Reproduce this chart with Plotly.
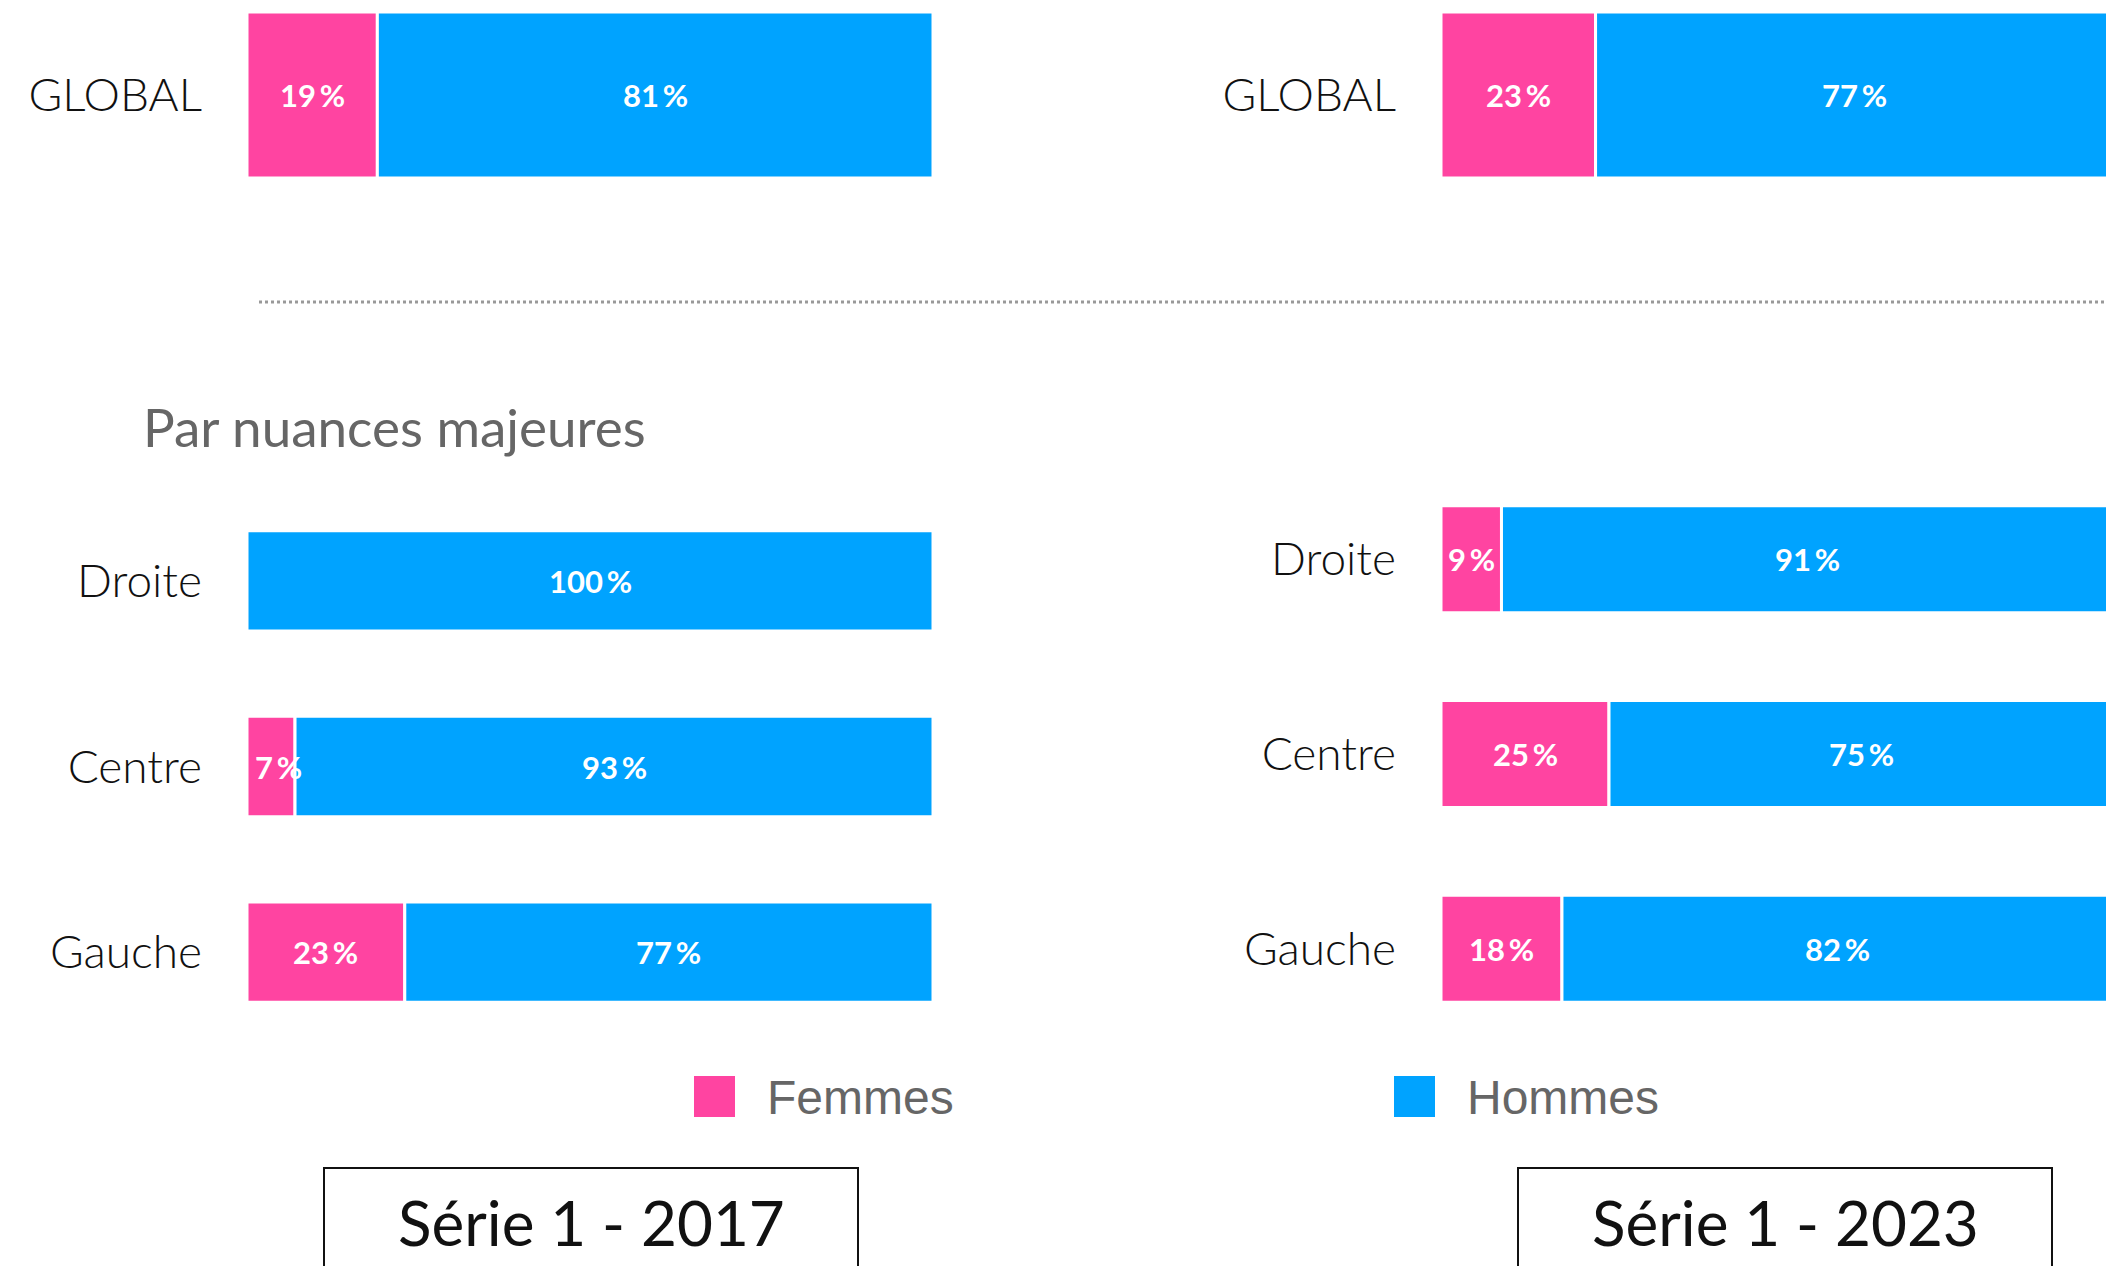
import plotly.graph_objects as go

# ---- data ----
global_cat = ["GLOBAL"]
nuance_cat = ["Droite", "Centre", "Gauche"]

femmes_2017_global = [19]
hommes_2017_global = [81]
femmes_2017 = [0, 7, 23]
hommes_2017 = [100, 93, 77]

femmes_2023_global = [23]
hommes_2023_global = [77]
femmes_2023 = [9, 25, 18]
hommes_2023 = [91, 75, 82]

series_names = ["Femmes", "Hommes"]
panel_titles = ["Série 1 - 2017", "Série 1 - 2023"]
section_title = "Par nuances majeures"

PINK = "#FF44A1"
BLUE = "#00A3FF"
W, H = 2106, 1266


def px_x(p):
    return p / W


def px_y(p):
    return 1 - p / H


fig = go.Figure()

panels = [
    # (xaxis id, yaxis id, cats, femmes, hommes, bar width)
    ("x", "y", global_cat, femmes_2017_global, hommes_2017_global, 1.0),
    ("x2", "y2", global_cat, femmes_2023_global, hommes_2023_global, 1.0),
    ("x3", "y3", nuance_cat, femmes_2017, hommes_2017, 0.54),
    ("x4", "y4", nuance_cat, femmes_2023, hommes_2023, 0.55),
]

annotations = []
for xa, ya, cats, fem, hom, bw in panels:
    for name, vals, col, base in [
        (series_names[0], fem, PINK, [0] * len(fem)),
        (series_names[1], hom, BLUE, fem),
    ]:
        fig.add_trace(go.Bar(
            y=cats, x=vals, base=base, orientation="h", name=name,
            marker=dict(color=col, line=dict(color="white", width=3)),
            width=[bw] * len(cats), xaxis=xa, yaxis=ya, showlegend=False,
            hoverinfo="skip",
        ))
        for c, v, b in zip(cats, vals, base):
            if v > 0:
                narrow = v < 8
                annotations.append(dict(
                    x=b if narrow else b + v / 2, y=c, xref=xa, yref=ya,
                    text=f"{v}\u2009%",
                    showarrow=False, xanchor="left" if narrow else "center",
                    xshift=6 if narrow else 0, yanchor="middle",
                    font=dict(family="Lato", size=31, color="white", weight=700),
                ))

axis_common_x = dict(showgrid=False, zeroline=False, showticklabels=False,
                     showline=False, fixedrange=True)
axis_common_y = dict(showgrid=False, zeroline=False, showline=False, ticks="",
                     ticklabelstandoff=44, fixedrange=True,
                     tickfont=dict(family="Lato", size=46, color="#111111", weight=300))

fig.update_layout(
    width=W, height=H, margin=dict(l=0, r=0, t=0, b=0),
    paper_bgcolor="white", plot_bgcolor="white",
    barmode="overlay",
    xaxis=dict(domain=[px_x(247), px_x(933)], range=[0, 100], anchor="y", **axis_common_x),
    yaxis=dict(domain=[px_y(178), px_y(12)], anchor="x", **axis_common_y),
    xaxis2=dict(domain=[px_x(1441), 1.0], range=[0, 100 * (W - 1441) / (2113 - 1441)],
                anchor="y2", **axis_common_x),
    yaxis2=dict(domain=[px_y(178), px_y(12)], anchor="x2", **axis_common_y),
    xaxis3=dict(domain=[px_x(247), px_x(933)], range=[0, 100], anchor="y3", **axis_common_x),
    yaxis3=dict(domain=[px_y(1045), px_y(488)], anchor="x3", autorange="reversed",
                **axis_common_y),
    xaxis4=dict(domain=[px_x(1441), 1.0], range=[0, 100 * (W - 1441) / (2113 - 1441)],
                anchor="y4", **axis_common_x),
    yaxis4=dict(domain=[px_y(1046), px_y(462)], anchor="x4", autorange="reversed",
                **axis_common_y),
)

# section title
annotations.append(dict(
    x=px_x(141), y=px_y(426), xref="paper", yref="paper", text=section_title,
    showarrow=False, xanchor="left", yanchor="middle",
    font=dict(family="Lato", size=53, color="#666666"),
))

# legend (custom, large swatches)
shapes = []
for (sx, tx), name, col in zip([(694, 765), (1394, 1465)], series_names, [PINK, BLUE]):
    shapes.append(dict(type="rect", xref="paper", yref="paper",
                       x0=px_x(sx), x1=px_x(sx + 41), y0=px_y(1117), y1=px_y(1076),
                       fillcolor=col, line=dict(width=0)))
    annotations.append(dict(
        x=px_x(tx), y=px_y(1097), xref="paper", yref="paper", text=name,
        showarrow=False, xanchor="left", yanchor="middle",
        font=dict(family="Liberation Sans", size=48, color="#666666"),
    ))

# dotted separator
shapes.append(dict(type="line", xref="paper", yref="paper",
                   x0=px_x(259), x1=1.0, y0=px_y(302), y1=px_y(302),
                   line=dict(color="#999999", width=3, dash="dot")))

# panel title boxes
for (bx0, bx1), t in zip([(324, 858), (1518, 2052)], panel_titles):
    shapes.append(dict(type="rect", xref="paper", yref="paper",
                       x0=px_x(bx0), x1=px_x(bx1), y0=-0.05, y1=px_y(1168),
                       line=dict(color="#111111", width=2), fillcolor="rgba(0,0,0,0)"))
    annotations.append(dict(
        x=px_x((bx0 + bx1) / 2), y=px_y(1222), xref="paper", yref="paper", text=t,
        showarrow=False, xanchor="center", yanchor="middle",
        font=dict(family="Lato", size=62, color="#111111"),
    ))

fig.update_layout(annotations=annotations, shapes=shapes)

fig.write_html("out.html", config={"displayModeBar": False},
               post_script="document.body.style.margin='0';document.body.style.overflow='hidden';")
